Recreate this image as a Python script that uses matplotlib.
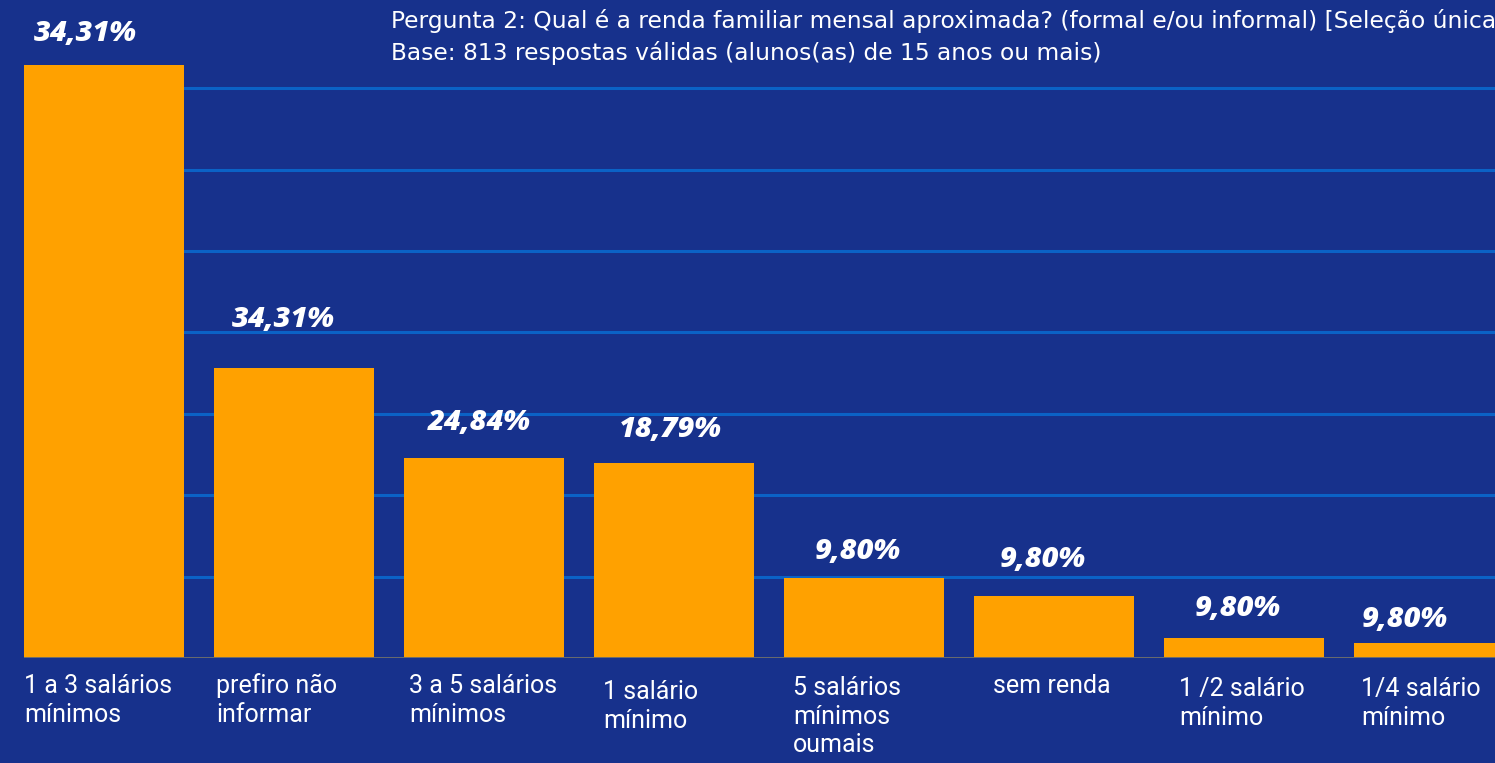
import matplotlib
matplotlib.use("Agg")
import matplotlib.pyplot as plt

# dados
categorias = ["1 a 3 salários\nmínimos", "prefiro não\ninformar", "3 a 5 salários\nmínimos",
              "1 salário\nmínimo", "5 salários\nmínimos\noumais", "sem renda",
              "1 /2 salário\nmínimo", "1/4 salário\nmínimo"]
valores = [36.4, 17.8, 12.3, 12.0, 4.9, 3.8, 1.2, 0.9]
rotulos = ["34,31%", "34,31%", "24,84%", "18,79%", "9,80%", "9,80%", "9,80%", "9,80%"]
grade = [0, 5, 10, 15, 20, 25, 30, 35]

titulo = ("Pergunta 2: Qual é a renda familiar mensal aproximada? (formal e/ou informal) [Seleção única]\n"
          "Base: 813 respostas válidas (alunos(as) de 15 anos ou mais)")

# ajustes finos dos rótulos (pixels)
rot_dx = [-19, -11, -5, -4, -6, -11, -6, -29]
rot_dy = [32, 49, 35, 33, 27, 37, 30, 24]
cat_dx = [0, 2, 5, 9, 9, 19, 15, 7]
cat_dy = [-16, -15, -16, -22, -18, -16, -19, -19]

fundo = "#17318c"
laranja = "#ffa100"
azul_grade = "#0b62c6"
largura = 0.842

fig = plt.figure(figsize=(14.95, 7.63), dpi=100, facecolor=fundo)
ax = fig.add_axes([0, 105 / 763, 1, 658 / 763])
ax.set_facecolor(fundo)

x = list(range(len(valores)))
ax.hlines(grade, -largura / 2, 8, color=azul_grade, lw=2.2, zorder=1)
ax.bar(x, valores, width=largura, color=laranja, zorder=2)
ax.hlines(0, -largura / 2, 8, color="#6b6b6b", lw=1.4, zorder=3)

for i, v in enumerate(valores):
    ax.annotate(rotulos[i], xy=(i, v), xytext=(rot_dx[i], rot_dy[i]),
                textcoords="offset pixels", ha="center", va="center",
                color="white", fontsize=21, fontweight="heavy", fontstyle="italic",
                family="Open Sans")
    ax.annotate(categorias[i], xy=(i - largura / 2, 0), xytext=(cat_dx[i], cat_dy[i]),
                textcoords="offset pixels", ha="left", va="top",
                color="white", fontsize=18, family="Roboto", linespacing=1.25,
                annotation_clip=False)

ax.set_xlim(-104 / 190, 1391 / 190)
ax.set_ylim(0, 658 / 81.4 * 5)
ax.axis("off")

fig.text(391 / 1495, 1 - 9 / 763, titulo, ha="left", va="top", color="white",
         fontsize=16.8, family="DejaVu Sans", linespacing=1.4)

fig.savefig("out.png", dpi=100, facecolor=fundo)
